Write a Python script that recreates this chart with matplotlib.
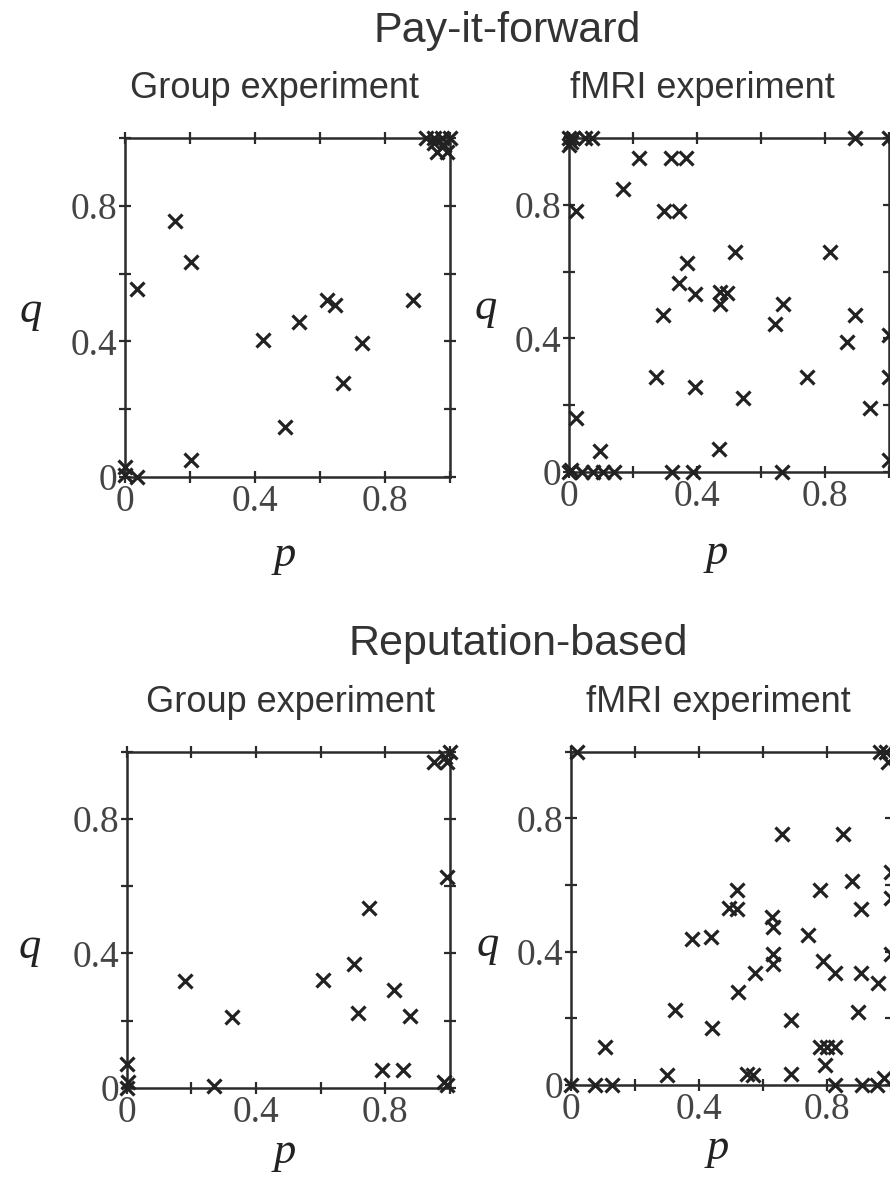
import numpy as np
import matplotlib
matplotlib.use("Agg")
import matplotlib.pyplot as plt

# Pay-it-forward, group experiment
pif_group_p = [0.154, 0.202, 0.038, 0.426, 0.536, 0.621, 0.646, 0.887, 0.728, 0.672, 0.492,
               0.202, 0.0, 0.0, 0.036, 0.925, 0.95, 0.975, 1.0, 0.95, 0.96, 0.99, 0.98]
pif_group_q = [0.754, 0.633, 0.554, 0.404, 0.458, 0.522, 0.507, 0.522, 0.394, 0.276, 0.148,
               0.051, 0.03, 0.005, 0.0, 1.0, 1.0, 1.0, 1.0, 0.985, 0.96, 0.96, 0.98]

# Pay-it-forward, fMRI experiment
pif_fmri_p = [0.0, 0.0, 0.01, 0.005, 0.05, 0.07,
              0.219, 0.318, 0.364, 0.169, 0.02, 0.296, 0.344, 0.518, 0.815, 0.367, 0.343,
              0.393, 0.471, 0.492, 0.471, 0.667, 0.643, 0.294, 0.893, 0.867, 1.0, 1.0, 0.94,
              1.0, 0.271, 0.393, 0.542, 0.742, 0.468, 0.021, 0.096,
              0.0, 0.005, 0.04, 0.075, 0.105, 0.14, 0.321, 0.387, 0.665,
              0.893, 1.0]
pif_fmri_q = [1.0, 0.98, 1.0, 0.99, 1.0, 1.0,
              0.94, 0.94, 0.94, 0.847, 0.783, 0.783, 0.783, 0.66, 0.66, 0.627, 0.565,
              0.533, 0.54, 0.535, 0.503, 0.502, 0.443, 0.47, 0.47, 0.39, 0.41, 0.285, 0.19,
              0.035, 0.285, 0.255, 0.22, 0.285, 0.067, 0.162, 0.063,
              0.0, 0.005, 0.0, 0.0, 0.0, 0.0, 0.0, 0.0, 0.0,
              1.0, 1.0]

# Reputation-based, group experiment
rep_group_p = [1.0, 0.95, 0.99, 0.985, 0.99, 0.751, 0.703, 0.606, 0.18, 0.325, 0.714,
               0.827, 0.876, 0.789, 0.856, 0.0, 0.005, 0.0, 0.27, 0.98, 0.99]
rep_group_q = [1.0, 0.97, 0.97, 0.985, 0.628, 0.534, 0.367, 0.322, 0.318, 0.211, 0.221,
               0.29, 0.214, 0.053, 0.053, 0.072, 0.018, 0.0, 0.005, 0.018, 0.008]

# Reputation-based, fMRI experiment
rep_fmri_p = [0.021, 0.967, 0.985, 0.99, 0.659, 0.852, 1.0, 0.88, 1.0, 0.907, 0.519, 0.495,
              0.521, 0.779, 0.63, 0.633, 0.38, 0.4375, 0.743, 0.633, 0.633, 0.576, 0.787,
              0.826, 0.907, 1.0, 0.961, 0.524, 0.326, 0.44, 0.6875, 0.899, 0.107, 0.3,
              0.55, 0.571, 0.6875, 0.779, 0.8, 0.826, 0.795, 0.0, 0.076, 0.128, 0.826,
              0.909, 0.956, 0.98]
rep_fmri_q = [1.0, 1.0, 1.0, 0.97, 0.753, 0.753, 0.64, 0.613, 0.56, 0.528, 0.585, 0.53,
              0.528, 0.585, 0.505, 0.475, 0.437, 0.445, 0.45, 0.393, 0.363, 0.335, 0.372,
              0.335, 0.335, 0.393, 0.305, 0.28, 0.225, 0.17, 0.195, 0.22, 0.113, 0.03,
              0.032, 0.03, 0.032, 0.115, 0.115, 0.115, 0.06, 0.0, 0.0, 0.0, 0.0,
              0.0, 0.0, 0.02]

tick_vals = [0, 0.2, 0.4, 0.6, 0.8, 1.0]
tick_labels = ['0', '', '0.4', '', '0.8', '']

W, H = 890, 1178
fig = plt.figure(figsize=(W / 100, H / 100), dpi=100)

SANS = 'Liberation Sans'
SERIF = 'Liberation Serif'
INK = '#2b2b2b'


def px_axes(left, top, right, bottom):
    return fig.add_axes([left / W, 1 - bottom / H, (right - left) / W, (bottom - top) / H])


def draw_panel(ax, p, q, plab, qlab):
    ax.plot(p, q, linestyle='none', marker='x', markersize=10, mew=2.3,
            color='#222222', clip_on=False, zorder=5)
    ax.set_xlim(0, 1)
    ax.set_ylim(0, 1)
    ax.set_xticks(tick_vals)
    ax.set_yticks(tick_vals)
    ax.set_xticklabels(tick_labels, fontfamily=SERIF, fontsize=27, color='#444444')
    ax.set_yticklabels(tick_labels, fontfamily=SERIF, fontsize=27, color='#444444')
    ax.tick_params(direction='inout', length=9, width=1.6, color=INK,
                   top=True, right=True, pad=1)
    for s in ax.spines.values():
        s.set_linewidth(1.8)
        s.set_color(INK)
    ax.set_xlabel('p', fontfamily=SERIF, fontstyle='italic', fontsize=32, color='#222222')
    ax.set_ylabel('q', fontfamily=SERIF, fontstyle='italic', fontsize=32, color='#222222',
                  rotation=0)
    ax.xaxis.set_label_coords(*plab)
    ax.yaxis.set_label_coords(*qlab)
    ax.xaxis.label.set_va('center')
    ax.yaxis.label.set_va('center')
    ax.yaxis.label.set_ha('center')


ax1 = px_axes(125, 138, 450, 477)
ax2 = px_axes(569.3, 138.3, 889.3, 471.7)
ax3 = px_axes(126.7, 751.7, 450, 1087.7)
ax4 = px_axes(570.7, 751.7, 890.7, 1085)

draw_panel(ax1, pif_group_p, pif_group_q, (0.49, -0.23), (-0.29, 0.49))
draw_panel(ax2, pif_fmri_p, pif_fmri_q, (0.46, -0.245), (-0.26, 0.49))
draw_panel(ax3, rep_group_p, rep_group_q, (0.49, -0.19), (-0.30, 0.42))
draw_panel(ax4, rep_fmri_p, rep_fmri_q, (0.46, -0.19), (-0.26, 0.42))

# headings
fig.text(507 / W, 1 - 31 / H, 'Pay-it-forward', fontfamily=SANS, fontsize=31,
         ha='center', va='center', color='#333333')
fig.text(275 / W, 1 - 88 / H, 'Group experiment', fontfamily=SANS, fontsize=26,
         ha='center', va='center', color='#333333')
fig.text(702 / W, 1 - 88 / H, 'fMRI experiment', fontfamily=SANS, fontsize=26,
         ha='center', va='center', color='#333333')
fig.text(518 / W, 1 - 644 / H, 'Reputation-based', fontfamily=SANS, fontsize=31,
         ha='center', va='center', color='#333333')
fig.text(290 / W, 1 - 702 / H, 'Group experiment', fontfamily=SANS, fontsize=26,
         ha='center', va='center', color='#333333')
fig.text(718 / W, 1 - 702 / H, 'fMRI experiment', fontfamily=SANS, fontsize=26,
         ha='center', va='center', color='#333333')

fig.savefig('out.png', dpi=100)
